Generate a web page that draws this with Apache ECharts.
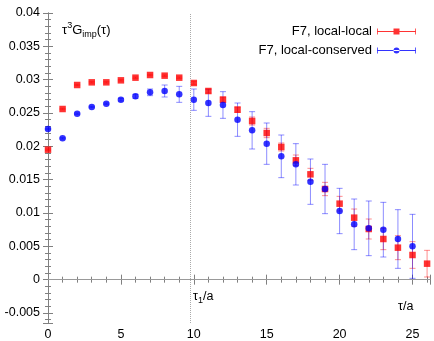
<!DOCTYPE html>
<html>
<head>
<meta charset="utf-8">
<script src="https://cdn.jsdelivr.net/npm/echarts@6/dist/echarts.min.js"></script>
<style>
  html, body { margin: 0; padding: 0; background: #fff; }
  #main { width: 434px; height: 341px; }
</style>
</head>
<body>
<div id="main"></div>
<script>
var tau = [0, 1, 2, 3, 4, 5, 6, 7, 8, 9, 10, 11, 12, 13, 14, 15, 16, 17, 18, 19, 20, 21, 22, 23, 24, 25, 26];

// F7, local-local (red squares)
var llVal = [0.0195, 0.0256, 0.0292, 0.0296, 0.0296, 0.0299, 0.0303, 0.0307, 0.0306, 0.0303, 0.0295, 0.0283, 0.0270,
             0.0255, 0.0238, 0.0220, 0.0199, 0.0179, 0.0158, 0.0136, 0.0114, 0.0093, 0.0076, 0.0061, 0.0048, 0.0037, 0.0024];
var llErr = [0.0001, 0.0001, 0.0001, 0.0001, 0.0001, 0.0001, 0.0001, 0.0001, 0.0001, 0.0001, 0.0002, 0.0003, 0.0004,
             0.0004, 0.0006, 0.0007, 0.0006, 0.0008, 0.0009, 0.0010, 0.0011, 0.0013, 0.0015, 0.0016, 0.0018, 0.0020, 0.0020];

// F7, local-conserved (blue circles)
var lcVal = [0.0226, 0.0212, 0.0249, 0.0259, 0.0264, 0.0270, 0.0275, 0.0281, 0.0283, 0.0278, 0.0270, 0.0265, 0.0262,
             0.0240, 0.0224, 0.0204, 0.0185, 0.0173, 0.0147, 0.0136, 0.0103, 0.0083, 0.0077, 0.0075, 0.0061, 0.0050];
var lcErr = [0.0001, 0.0001, 0.0001, 0.0001, 0.0001, 0.0002, 0.0003, 0.0005, 0.0009, 0.0012, 0.0016, 0.0020, 0.0020,
             0.0025, 0.0028, 0.0031, 0.0032, 0.0031, 0.0034, 0.0037, 0.0034, 0.0038, 0.0041, 0.0041, 0.0044, 0.0048];

var tau1 = 9.75;          // dotted line
var xMin = 0, xMax = 26.2;
var yMin = -0.0065, yMax = 0.04;

var axisGray = '#808080';
var font = 'Liberation Sans';

function pts(vals) {
    return vals.map(function (v, i) { return [tau[i], v]; });
}
function bars(vals, errs) {
    return vals.map(function (v, i) { return [tau[i], v - errs[i], v + errs[i]]; });
}

// vertical error bar with small caps
function errorBar(color) {
    return function (params, api) {
        var x = api.value(0);
        var top = api.coord([x, api.value(2)]);
        var bot = api.coord([x, api.value(1)]);
        var w = 3;
        var st = { stroke: color, lineWidth: 1 };
        return {
            type: 'group',
            children: [
                { type: 'line', shape: { x1: top[0], y1: top[1], x2: bot[0], y2: bot[1] }, style: st },
                { type: 'line', shape: { x1: top[0] - w, y1: top[1], x2: top[0] + w, y2: top[1] }, style: st },
                { type: 'line', shape: { x1: bot[0] - w, y1: bot[1], x2: bot[0] + w, y2: bot[1] }, style: st }
            ]
        };
    };
}

var xAxisBase = {
    type: 'value', min: xMin, max: xMax, interval: 5,
    axisLine: { show: true, lineStyle: { color: axisGray } },
    axisTick: { show: true, inside: true, length: 5, lineStyle: { color: axisGray } },
    minorTick: { show: true, splitNumber: 5, length: 3, lineStyle: { color: axisGray } },
    splitLine: { show: false }
};
var yAxisBase = {
    type: 'value', min: yMin, max: yMax, splitNumber: 9, minInterval: 0.005, maxInterval: 0.005,
    axisLine: { show: true, lineStyle: { color: axisGray } },
    axisTick: { show: true, inside: true, length: 5, lineStyle: { color: axisGray } },
    minorTick: { show: true, splitNumber: 5, length: 3, lineStyle: { color: axisGray } },
    splitLine: { show: false }
};

var legendRed = 'path://M0,3.6h39v0.8h-39z M0,1h0.8v6h-0.8z M38.2,1h0.8v6h-0.8z M16.5,1h6v6h-6z';
var legendBlue = 'path://M0,3.6h39v0.8h-39z M0,1h0.8v6h-0.8z M38.2,1h0.8v6h-0.8z M16.5,4a3,3 0 1,0 6,0a3,3 0 1,0 -6,0z';

var myChart = echarts.init(document.getElementById('main'));

myChart.setOption({
    animation: false,
    backgroundColor: '#fff',
    textStyle: { fontFamily: font },
    grid: { left: 48, right: 4, top: 13, bottom: 18 },
    legend: {
        orient: 'vertical',
        right: 13, top: 20,
        align: 'right',
        itemWidth: 39, itemHeight: 6, itemGap: 6,
        textStyle: { fontFamily: font, fontSize: 13, color: '#000' },
        data: [
            { name: 'F7, local-local', icon: legendRed },
            { name: 'F7, local-conserved', icon: legendBlue }
        ]
    },
    xAxis: [
        Object.assign({}, xAxisBase, {
            position: 'bottom',
            axisLabel: { color: '#000', fontSize: 12.5, fontFamily: font, margin: 5 }
        }),
        Object.assign({}, xAxisBase, { position: 'top', axisLabel: { show: false } })
    ],
    yAxis: [
        Object.assign({}, yAxisBase, {
            position: 'left',
            axisLabel: { color: '#000', fontSize: 12.5, fontFamily: font, margin: 8, showMinLabel: false }
        }),
        Object.assign({}, yAxisBase, { position: 'right', axisLabel: { show: false } })
    ],
    graphic: [
        {
            type: 'text', left: 62, top: 21,
            style: {
                text: '{a|τ}{sup|3}{a|G}{sub|imp}{a|(τ)}',
                rich: {
                    a: { fontSize: 13, fontFamily: font, fill: '#000', lineHeight: 18, verticalAlign: 'middle' },
                    sup: { fontSize: 9, fontFamily: font, fill: '#000', verticalAlign: 'top' },
                    sub: { fontSize: 9, fontFamily: font, fill: '#000', verticalAlign: 'bottom' }
                }
            }
        },
        {
            type: 'text', left: 193, top: 290,
            style: {
                text: '{a|τ}{sub|1}{a|/a}',
                rich: {
                    a: { fontSize: 12.5, fontFamily: font, fill: '#000', lineHeight: 17, verticalAlign: 'middle' },
                    sub: { fontSize: 9, fontFamily: font, fill: '#000', verticalAlign: 'bottom' }
                }
            }
        },
        {
            type: 'text', left: 398, top: 300,
            style: { text: 'τ/a', fontSize: 12.5, fontFamily: font, fill: '#000' }
        }
    ],
    series: [
        {
            name: 'lines', type: 'scatter', data: [], silent: true,
            markLine: {
                silent: true, symbol: 'none', label: { show: false },
                data: [
                    { xAxis: tau1, lineStyle: { color: '#aaa', type: 'dotted', width: 1 } },
                    { yAxis: 0, lineStyle: { color: '#999', type: 'solid', width: 1 } }
                ]
            }
        },
        {
            name: 'll-err', type: 'custom', renderItem: errorBar('rgba(255,0,0,0.45)'),
            data: bars(llVal, llErr), encode: { x: 0, y: [1, 2] }, z: 2, silent: true
        },
        {
            name: 'lc-err', type: 'custom', renderItem: errorBar('rgba(0,0,255,0.45)'),
            data: bars(lcVal, lcErr), encode: { x: 0, y: [1, 2] }, z: 2, silent: true
        },
        {
            name: 'F7, local-local', type: 'scatter', symbol: 'rect', symbolSize: 6.5,
            itemStyle: { color: '#ff0000' }, data: pts(llVal), z: 3
        },
        {
            name: 'F7, local-conserved', type: 'scatter', symbol: 'circle', symbolSize: 6.5,
            itemStyle: { color: '#0000ff' }, data: pts(lcVal), z: 4
        }
    ]
});
</script>
</body>
</html>
